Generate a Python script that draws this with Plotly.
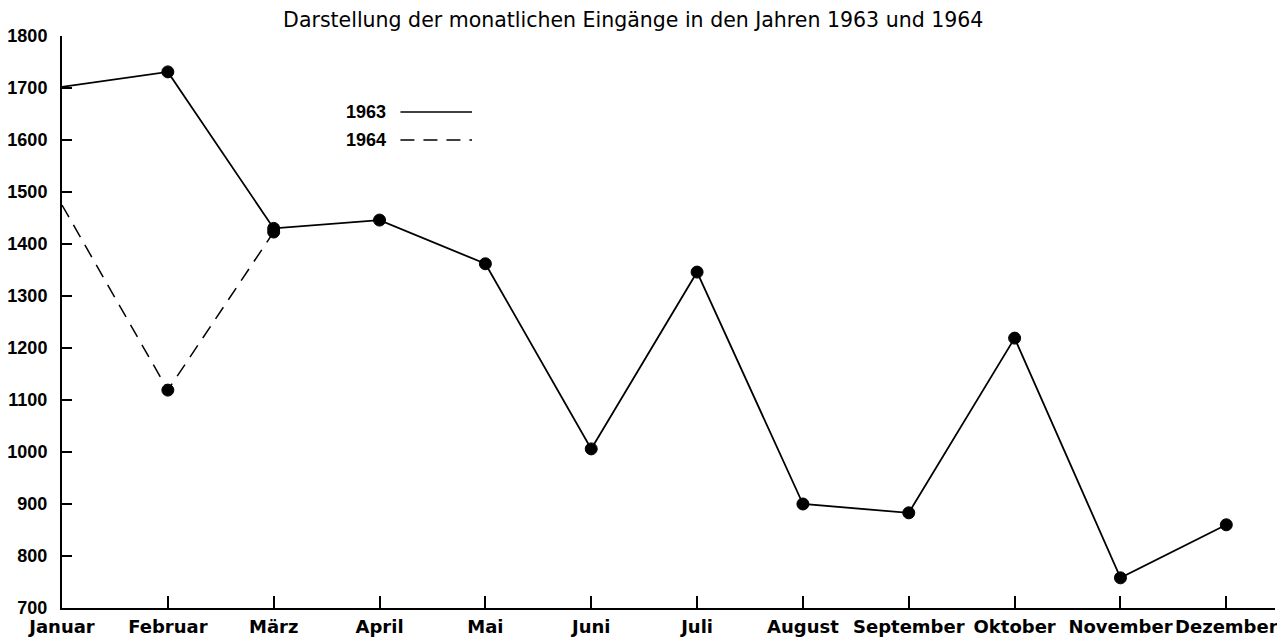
import plotly.graph_objects as go

months = ["Januar", "Februar", "März", "April", "Mai", "Juni", "Juli",
          "August", "September", "Oktober", "November", "Dezember"]
values_1963 = [1702, 1731, 1430, 1446, 1362, 1006, 1346, 900, 883, 1219, 758, 860]
months_1964 = ["Januar", "Februar", "März"]
values_1964 = [1475, 1119, 1423]
y_ticks = [700, 800, 900, 1000, 1100, 1200, 1300, 1400, 1500, 1600, 1700, 1800]

x_font = dict(family="DejaVu Sans", size=18, color="black", weight="bold")
y_font = dict(family="Liberation Sans, Arial", size=18, color="black", weight="bold")

fig = go.Figure()
fig.add_trace(go.Scatter(
    x=months, y=values_1963, mode="lines+markers", name="1963",
    line=dict(color="black", width=1.8),
    marker=dict(color="black", opacity=1, size=[0] + [12] * (len(months) - 1),
                line=dict(color="black", width=1)),
    cliponaxis=False,
))
fig.add_trace(go.Scatter(
    x=months_1964, y=values_1964, mode="lines+markers", name="1964",
    line=dict(color="black", width=1.5, dash="14px,9px"),
    marker=dict(color="black", opacity=1, size=[0] + [12] * (len(months_1964) - 1),
                line=dict(color="black", width=1)),
    cliponaxis=False,
))

# legend (drawn as in the original)
fig.add_annotation(x=0.269, y=0.867, xref="paper", yref="paper", text="1963",
                   showarrow=False, xanchor="right", yanchor="middle", font=y_font)
fig.add_annotation(x=0.269, y=0.818, xref="paper", yref="paper", text="1964",
                   showarrow=False, xanchor="right", yanchor="middle", font=y_font)
fig.add_shape(type="line", xref="paper", yref="paper", x0=0.279, x1=0.338, y0=0.867, y1=0.867,
              line=dict(color="black", width=1.5))
fig.add_shape(type="line", xref="paper", yref="paper", x0=0.279, x1=0.338, y0=0.818, y1=0.818,
              line=dict(color="black", width=1.5, dash="14px,9px"))

# the page body has an 8px margin: the figure is sized/offset to fill the window
fig.update_layout(
    width=1276, height=629,
    margin=dict(l=54, r=9, t=28, b=29),
    paper_bgcolor="white", plot_bgcolor="white",
    showlegend=False,
    hovermode=False,
    title=dict(text="Darstellung der monatlichen Eingänge in den Jahren 1963 und 1964",
               x=0.49, xanchor="center", y=0.981, yanchor="middle",
               font=dict(family="DejaVu Sans", size=20.5, color="black")),
)
fig.update_xaxes(
    type="category", categoryorder="array", categoryarray=months,
    range=[0, 11.46], showgrid=False, zeroline=False,
    showline=True, linecolor="black", linewidth=2,
    ticks="inside", ticklen=12, tickwidth=1.5, tickcolor="black",
    tickfont=x_font, ticklabelstandoff=1, automargin=False,
)
fig.update_yaxes(
    range=[700, 1800], tickvals=y_ticks, showgrid=False, zeroline=False,
    showline=True, linecolor="black", linewidth=2,
    ticks="inside", ticklen=10, tickwidth=1.5, tickcolor="black",
    tickfont=y_font, ticklabelstandoff=9, automargin=False,
)

fig.write_html("out.html")
